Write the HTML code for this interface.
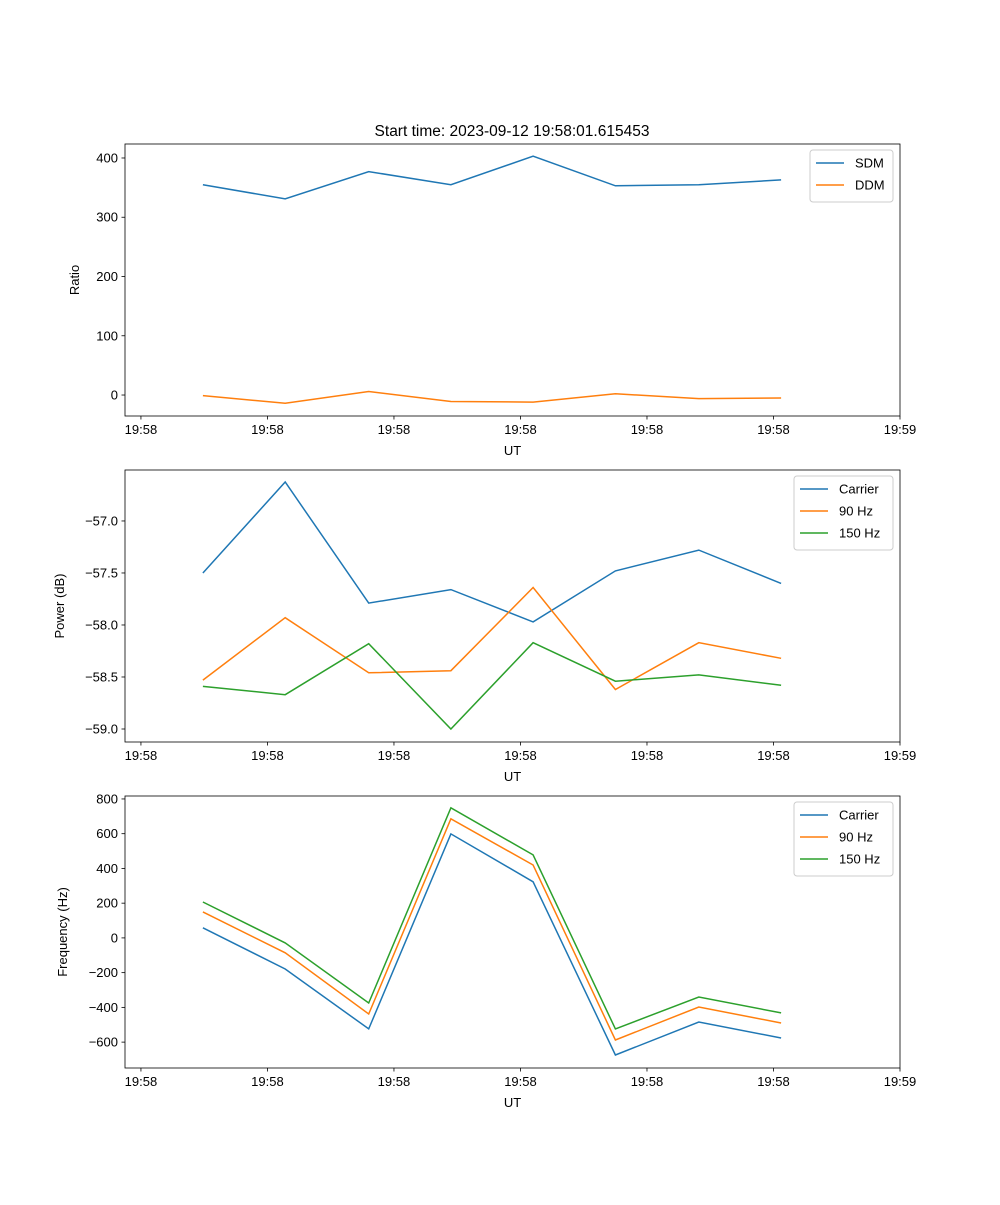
<!DOCTYPE html>
<html><head><meta charset="utf-8"><style>
body{margin:0;background:#fff;}
svg text{font-family:"Liberation Sans","DejaVu Sans",sans-serif;font-size:13px;fill:#000;}
</style></head><body>
<svg id="fig" width="1000" height="1200" xmlns="http://www.w3.org/2000/svg">
<rect width="1000" height="1200" fill="#fff"/>
<text x="512" y="136" text-anchor="middle" style="font-size:15.5px">Start time: 2023-09-12 19:58:01.615453</text>
</svg>
<script>
const xData = [0.49,1.14,1.80,2.45,3.10,3.75,4.41,5.06];
const xTickVals = [0,1,2,3,4,5,6];
const xTickLabels = ["19:58","19:58","19:58","19:58","19:58","19:58","19:59"];
const sdm = [355,331,377,355,403,353,355,363];
const ddm = [-1,-14,6,-11,-12,2,-6,-5];
const pCarrier = [-57.5,-56.625,-57.79,-57.66,-57.97,-57.48,-57.28,-57.60];
const p90 = [-58.53,-57.93,-58.46,-58.44,-57.64,-58.62,-58.17,-58.32];
const p150 = [-58.59,-58.67,-58.18,-59.0,-58.17,-58.54,-58.48,-58.58];
const fCarrier = [58,-179,-524,599,323,-674,-484,-576];
const f90 = [150,-86,-438,686,420,-588,-398,-490];
const f150 = [207,-29,-375,749,478,-524,-340,-432];
const ticks1 = [0,100,200,300,400];
const ticks2 = [-59.0,-58.5,-58.0,-57.5,-57.0];
const ticks3 = [-600,-400,-200,0,200,400,600,800];

const NS="http://www.w3.org/2000/svg";
const svg=document.getElementById('fig');
function mk(tag,attrs,parent){const e=document.createElementNS(NS,tag);for(const k in attrs)e.setAttribute(k,attrs[k]);(parent||svg).appendChild(e);return e;}
const L=125,R=900,XMIN=-0.126,XMAX=6.0;
const xs=v=>L+(v-XMIN)/(XMAX-XMIN)*(R-L);
const colors=["#1f77b4","#ff7f0e","#2ca02c"];

function panel(id,top,bottom,ymin,ymax,yticks,fmt,ylabel,series,names,legendW){
  const g=mk('g',{});
  
  
  const ys=v=>bottom-(v-ymin)/(ymax-ymin)*(bottom-top);
  series.forEach((s,si)=>{
    const pts=s.map((v,i)=>xs(xData[i]).toFixed(1)+','+ys(v).toFixed(1)).join(' ');
    const pl=mk('polyline',{points:pts,fill:'none',stroke:colors[si],'stroke-width':1.5},g);
    
    
  });
  const fr=mk('rect',{x:L,y:top,width:R-L,height:bottom-top,fill:'none',stroke:'#000','stroke-width':0.8},g);
  
  
  xTickVals.forEach((v,i)=>{
    const x=xs(v);
    mk('line',{x1:x,x2:x,y1:bottom,y2:bottom+3.5,stroke:'#000','stroke-width':0.8},g);
    const t=mk('text',{x:x,y:bottom+18,'text-anchor':'middle'},g);t.textContent=xTickLabels[i];
    
    
  });
  yticks.forEach(v=>{
    const y=ys(v);
    mk('line',{x1:L-3.5,x2:L,y1:y,y2:y,stroke:'#000','stroke-width':0.8},g);
    const t=mk('text',{x:L-7,y:y+4.5,'text-anchor':'end'},g);t.textContent=fmt(v);
    
    
  });
  const xl=mk('text',{x:(L+R)/2,y:bottom+39,'text-anchor':'middle'},g);xl.textContent='UT';
  
  
  const yl=mk('text',{x:0,y:0,'text-anchor':'middle',transform:`translate(${id==='ratio'?79:id==='power'?64:67},${(top+bottom)/2}) rotate(-90)`},g);yl.textContent=ylabel;
  
  
  const lx=R-7-legendW, ly=top+6, lh=8+names.length*22;
  const lg=mk('g',{},g);
  
  
  mk('rect',{x:lx,y:ly,width:legendW,height:lh,rx:3,fill:'#fff',stroke:'#ccc','stroke-width':1},lg);
  names.forEach((n,i)=>{
    const y=ly+13+i*22;
    mk('line',{x1:lx+6,x2:lx+34,y1:y,y2:y,stroke:colors[i],'stroke-width':1.5},lg);
    const t=mk('text',{x:lx+45,y:y+4.5},lg);t.textContent=n;
    
    
  });
}
panel('ratio',144,416,-35.4,423.6,ticks1,v=>String(v),'Ratio',[sdm,ddm],['SDM','DDM'],83);
panel('power',470,742,-59.125,-56.51,ticks2,v=>v.toFixed(1).replace('-','\u2212'),'Power (dB)',[pCarrier,p90,p150],['Carrier','90 Hz','150 Hz'],99);
panel('freq',796,1068,-749,817,ticks3,v=>String(v).replace('-','\u2212'),'Frequency (Hz)',[fCarrier,f90,f150],['Carrier','90 Hz','150 Hz'],99);
</script>
</body></html>
